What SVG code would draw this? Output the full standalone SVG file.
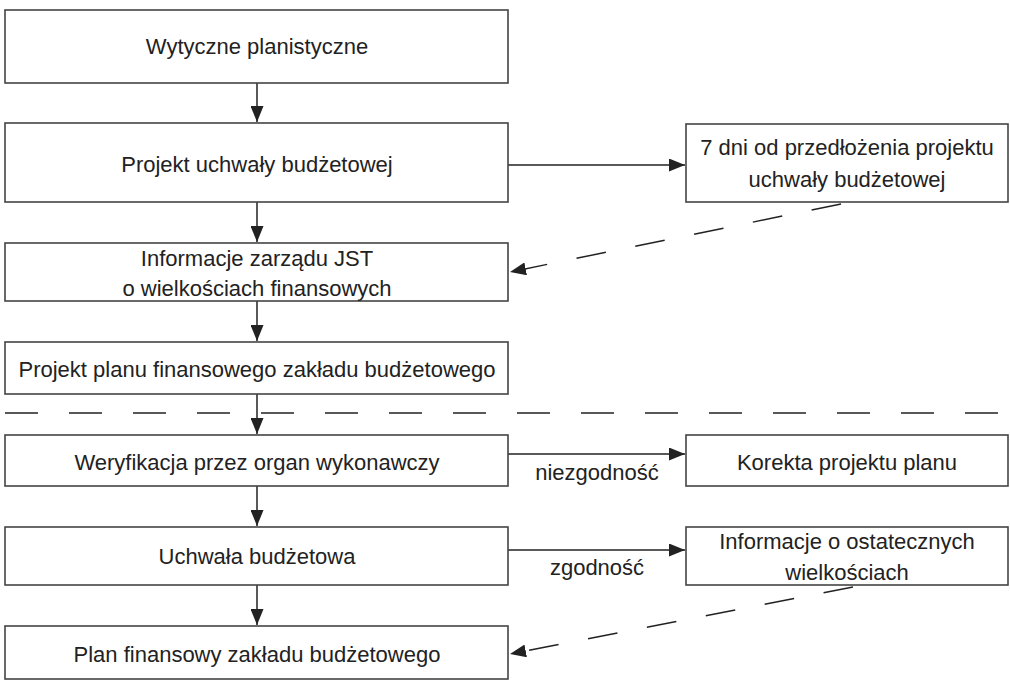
<svg xmlns="http://www.w3.org/2000/svg" width="1010" height="682" viewBox="0 0 1010 682">
<style>
.box{fill:#fff;stroke:#444;stroke-width:1.6}
.t{font-family:"Liberation Sans",Arial,sans-serif;font-size:22px;fill:#222;text-anchor:middle}
.c{fill:none;stroke:#222;stroke-width:1.5}
.d{fill:none;stroke:#222;stroke-width:1.5;stroke-dasharray:30 30}
</style>
<defs>
<marker id="ah" markerUnits="userSpaceOnUse" markerWidth="17" markerHeight="13" refX="16" refY="6.5" orient="auto">
<path d="M0,0 L16,6.5 L0,13 z" fill="#222"/>
</marker>
</defs>
<rect width="1010" height="682" fill="#fff"/>
<g id="connectors">
<line class="c" x1="257" y1="83" x2="257" y2="122" marker-end="url(#ah)"/>
<line class="c" x1="257" y1="202" x2="257" y2="242" marker-end="url(#ah)"/>
<line class="c" x1="257" y1="301" x2="257" y2="341" marker-end="url(#ah)"/>
<line class="c" x1="257" y1="394" x2="257" y2="434" marker-end="url(#ah)"/>
<line class="c" x1="257" y1="486" x2="257" y2="526" marker-end="url(#ah)"/>
<line class="c" x1="257" y1="585" x2="257" y2="625" marker-end="url(#ah)"/>
<line class="c" x1="508" y1="165" x2="685" y2="165" marker-end="url(#ah)"/>
<line class="c" x1="508" y1="454" x2="685" y2="454" marker-end="url(#ah)"/>
<line class="c" x1="508" y1="550" x2="685" y2="550" marker-end="url(#ah)"/>
<line class="d" x1="841" y1="204" x2="510" y2="272" marker-end="url(#ah)"/>
<line class="d" x1="853" y1="587" x2="510" y2="654" marker-end="url(#ah)"/>
<line class="c" x1="5" y1="413" x2="1008" y2="413" style="stroke-dasharray:33 31"/>
<text class="t" x="597" y="480">niezgodność</text>
<text class="t" x="597" y="575">zgodność</text>
</g>
<g id="n1"><rect class="box" x="5" y="10" width="503" height="73"/><text class="t" x="257" y="54">Wytyczne planistyczne</text></g>
<g id="n2"><rect class="box" x="5" y="123" width="503" height="79"/><text class="t" x="257" y="172">Projekt uchwały budżetowej</text></g>
<g id="n3"><rect class="box" x="686" y="124" width="322" height="78"/><text class="t" x="847" y="155">7 dni od przedłożenia projektu</text><text class="t" x="847" y="187">uchwały budżetowej</text></g>
<g id="n4"><rect class="box" x="5" y="243" width="503" height="58"/><text class="t" x="257" y="266">Informacje zarządu JST</text><text class="t" x="257" y="296">o wielkościach finansowych</text></g>
<g id="n5"><rect class="box" x="5" y="342" width="503" height="52"/><text class="t" x="257" y="377">Projekt planu finansowego zakładu budżetowego</text></g>
<g id="n6"><rect class="box" x="5" y="435" width="503" height="51"/><text class="t" x="257" y="470">Weryfikacja przez organ wykonawczy</text></g>
<g id="n7"><rect class="box" x="686" y="435" width="322" height="51"/><text class="t" x="847" y="470">Korekta projektu planu</text></g>
<g id="n8"><rect class="box" x="5" y="527" width="503" height="58"/><text class="t" x="257" y="564">Uchwała budżetowa</text></g>
<g id="n9"><rect class="box" x="686" y="527" width="322" height="58"/><text class="t" x="847" y="549">Informacje o ostatecznych</text><text class="t" x="847" y="580">wielkościach</text></g>
<g id="n10"><rect class="box" x="5" y="626" width="503" height="53"/><text class="t" x="257" y="662">Plan finansowy zakładu budżetowego</text></g>
</svg>
